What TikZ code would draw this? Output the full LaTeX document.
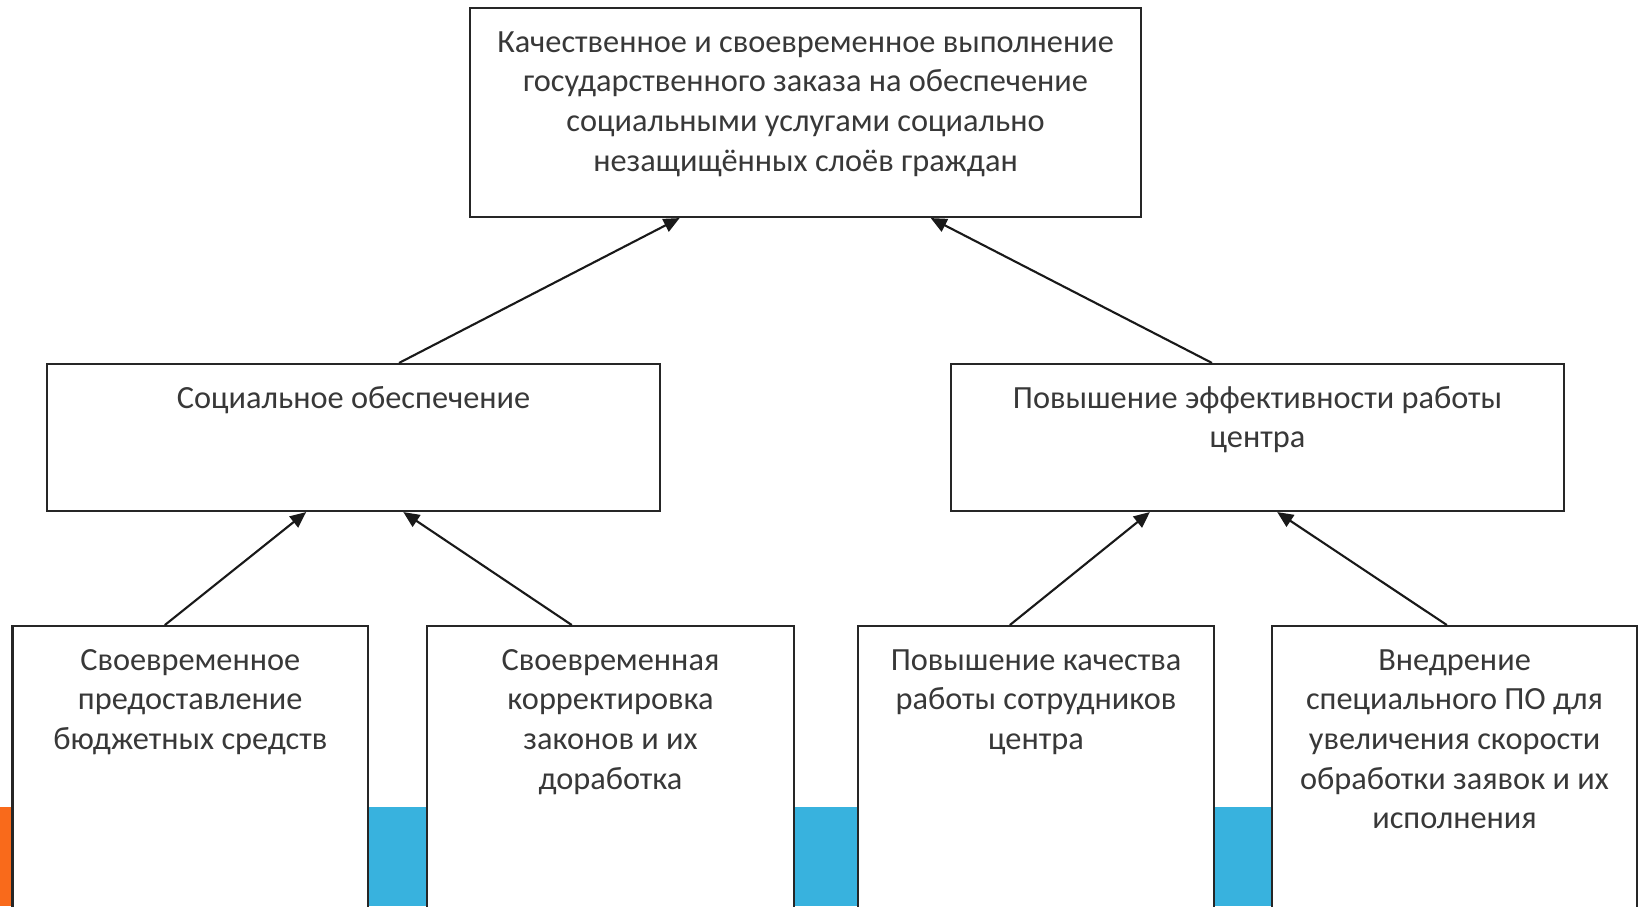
\documentclass[tikz,border=0pt]{standalone}
\usepackage{fontspec}
\setmainfont{Carlito}
\usetikzlibrary{arrows.meta,positioning,calc}

\definecolor{bandblue}{HTML}{38B2DE}
\definecolor{bandorange}{HTML}{F96A1B}
\definecolor{inkgray}{HTML}{383838}

% text set from the top of a fixed-size box
\newcommand{\boxtext}[3]{% #1 width  #2 height  #3 lines
  \parbox[c][#2][t]{#1}{\centering\rule{0pt}{0.44cm}#3}}

\begin{document}
\begin{tikzpicture}[
  font=\fontsize{9.2}{11.3}\selectfont,
  goalbox/.style={draw=black!85, fill=white, line width=0.6pt, inner sep=0pt, text=inkgray},
  arrowline/.style={-{Triangle[length=0.16cm, width=0.14cm]}, line width=0.6pt, black!90}
]

\useasboundingbox (0,0) rectangle (16.38,-9.06);
\clip (0,0) rectangle (16.38,-9.06);

% slide band behind the bottom row
\fill[bandblue]   (0.12,-8.07) rectangle (16.38,-9.06);
\fill[bandorange] (0,-8.07) rectangle (0.12,-9.06);

% goal
\node[goalbox] (goal) at (8.055,-1.125) {\boxtext{6.71cm}{2.09cm}{%
  Качественное и своевременное выполнение\\
  государственного заказа на обеспечение\\
  социальными услугами социально\\
  незащищённых слоёв граждан}};

% two directions
\node[goalbox] (soc) at (3.535,-4.375) {\boxtext{6.13cm}{1.47cm}{Социальное обеспечение}};
\node[goalbox] (eff) at (12.575,-4.375) {\boxtext{6.13cm}{1.47cm}{%
  Повышение эффективности работы\\ центра}};

% measures (run off the bottom edge)
\node[goalbox, anchor=north] (budget) at (1.9025,-6.25) {\boxtext{3.555cm}{3.3cm}{%
  Своевременное\\ предоставление\\ бюджетных средств}};
\node[goalbox, anchor=north] (laws) at (6.105,-6.25) {\boxtext{3.67cm}{3.3cm}{%
  Своевременная\\ корректировка\\ законов и их\\ доработка}};
\node[goalbox, anchor=north] (staff) at (10.36,-6.25) {\boxtext{3.56cm}{3.3cm}{%
  Повышение качества\\ работы сотрудников\\ центра}};
\node[goalbox, anchor=north] (soft) at (14.545,-6.25) {\boxtext{3.65cm}{3.3cm}{%
  Внедрение\\ специального ПО для\\ увеличения скорости\\ обработки заявок и их\\ исполнения}};

% arrows up the tree
\draw[arrowline] ($(soc.north west)!0.574!(soc.north east)$) -- ($(goal.south west)!0.313!(goal.south east)$);
\draw[arrowline] ($(eff.north west)!0.426!(eff.north east)$) -- ($(goal.south west)!0.686!(goal.south east)$);
\draw[arrowline] ($(budget.north west)!0.429!(budget.north east)$) -- ($(soc.south west)!0.423!(soc.south east)$);
\draw[arrowline] ($(laws.north west)!0.395!(laws.north east)$) -- ($(soc.south west)!0.581!(soc.south east)$);
\draw[arrowline] ($(staff.north west)!0.427!(staff.north east)$) -- ($(eff.south west)!0.325!(eff.south east)$);
\draw[arrowline] ($(soft.north west)!0.479!(soft.north east)$) -- ($(eff.south west)!0.532!(eff.south east)$);

\end{tikzpicture}
\end{document}
